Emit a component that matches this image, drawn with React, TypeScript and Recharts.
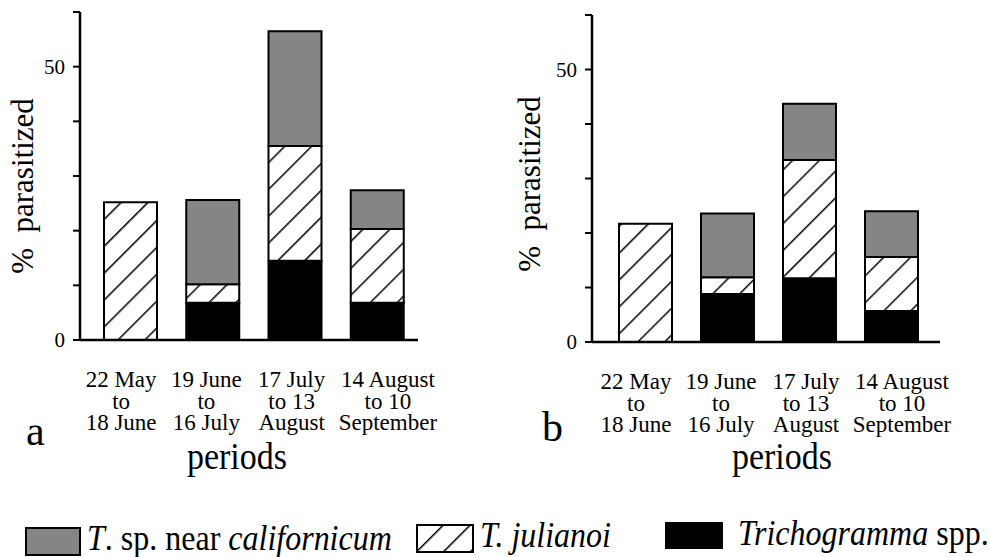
import React from "react";
import { BarChart, Bar, XAxis, YAxis } from "recharts";

//========== Data ===========

const periodLabels = [
  ["22 May", "to", "18 June"],
  ["19 June", "to", "16 July"],
  ["17 July", "to 13", "August"],
  ["14 August", "to 10", "September"],
];

// panel a
const trichogrammaA = [0, 6.8, 14.5, 6.8];
const julianoiA = [25.2, 3.4, 21.0, 13.5];
const californicumA = [0, 15.4, 21.0, 7.1];

// panel b
const trichogrammaB = [0, 8.8, 11.7, 5.7];
const julianoiB = [21.7, 3.1, 21.7, 9.9];
const californicumB = [0, 11.7, 10.3, 8.4];

const yTicks = [0, 10, 20, 30, 40, 50, 60];
const yTickLabels = [0, 50];

//========== Styles ===========

const SERIF = '"Liberation Serif", "Times New Roman", serif';
const GRAY = "#858585";
const LABEL_NUDGE = [-9, -6, -3, 11];

const buildRows = (t: number[], j: number[], c: number[]) =>
  periodLabels.map((p, i) => ({
    period: p.join("|"),
    trichogramma: t[i],
    julianoi: j[i],
    californicum: c[i],
  }));

const rowsA = buildRows(trichogrammaA, julianoiA, californicumA);
const rowsB = buildRows(trichogrammaB, julianoiB, californicumB);

// three-line period label under each bar
const CategoryTick = (props: any) => {
  const { x, y, payload, index } = props;
  const lines = String(payload.value).split("|");
  return (
    <text
      x={x + (LABEL_NUDGE[index] ?? 0)}
      y={y + 47}
      textAnchor="middle"
      fontSize={23}
      fontFamily={SERIF}
      fill="#000"
    >
      {lines.map((line, k) => (
        <tspan key={k} x={x + (LABEL_NUDGE[index] ?? 0)} dy={k === 0 ? 0 : 21.5}>
          {line}
        </tspan>
      ))}
    </text>
  );
};

const ValueTick = (props: any) => {
  const { x, y, payload } = props;
  if (!yTickLabels.includes(payload.value)) return <g />;
  return (
    <text
      x={x}
      y={y + 7}
      textAnchor="end"
      fontSize={21}
      fontFamily={SERIF}
      fill="#000"
    >
      {payload.value}
    </text>
  );
};

interface PanelProps {
  rows: typeof rowsA;
  left: number;
  width: number;
  margin: { top: number; right: number; bottom: number; left: number };
  padding: { left: number; right: number };
}

const Panel: React.FC<PanelProps> = ({ rows, left, width, margin, padding }) => (
  <div style={{ position: "absolute", left, top: 0 }}>
    <BarChart width={width} height={557} data={rows} margin={margin}>
      <XAxis
        dataKey="period"
        height={30}
        padding={padding}
        tickLine={false}
        tickSize={0}
        tickMargin={0}
        interval={0}
        tick={<CategoryTick />}
        axisLine={{ stroke: "#000", strokeWidth: 2.5 }}
      />
      <YAxis
        width={60}
        domain={[0, 60]}
        ticks={yTicks}
        tickSize={7}
        tickMargin={8}
        interval={0}
        tick={<ValueTick />}
        tickLine={{ stroke: "#000", strokeWidth: 2 }}
        axisLine={{ stroke: "#000", strokeWidth: 2.5 }}
      />
      <Bar
        dataKey="trichogramma"
        stackId="s"
        barSize={53}
        fill="#000"
        stroke="#000"
        strokeWidth={2}
        isAnimationActive={false}
      />
      <Bar
        dataKey="julianoi"
        stackId="s"
        barSize={53}
        fill="url(#hatch)"
        stroke="#000"
        strokeWidth={2}
        isAnimationActive={false}
      />
      <Bar
        dataKey="californicum"
        stackId="s"
        barSize={53}
        fill={GRAY}
        stroke="#000"
        strokeWidth={2}
        isAnimationActive={false}
      />
    </BarChart>
  </div>
);

const App: React.FC = () => {
  const txt = { fontFamily: SERIF, fill: "#000" };
  return (
    <div
      style={{
        position: "absolute",
        left: 0,
        top: 0,
        width: 991,
        height: 557,
        background: "#fff",
        overflow: "hidden",
      }}
    >
      {/* ====== Panel a ====== */}
      <Panel
        rows={rowsA}
        left={0}
        width={495}
        margin={{ top: 12, right: 77, bottom: 187, left: 20 }}
        padding={{ left: 9, right: 0 }}
      />
      {/* ====== Panel b ====== */}
      <Panel
        rows={rowsB}
        left={495}
        width={496}
        margin={{ top: 15, right: 51, bottom: 185, left: 37 }}
        padding={{ left: 12, right: 8 }}
      />

      {/* ====== Labels & legend ====== */}
      <svg
        width={991}
        height={557}
        style={{ position: "absolute", left: 0, top: 0, pointerEvents: "none" }}
      >
        <defs>
          <pattern
            id="hatch"
            width={19}
            height={19}
            patternUnits="userSpaceOnUse"
            patternTransform="rotate(45)"
          >
            <rect width={19} height={19} fill="#fff" />
            <line x1={0} y1={0} x2={0} y2={19} stroke="#000" strokeWidth={3} />
          </pattern>
        </defs>

        <text
          {...txt}
          fontSize={31}
          textAnchor="middle"
          transform="translate(33,186) rotate(-90)"
          xmlSpace="preserve"
        >
          {"%  parasitized"}
        </text>
        <text
          {...txt}
          fontSize={31}
          textAnchor="middle"
          transform="translate(540,184) rotate(-90)"
          xmlSpace="preserve"
        >
          {"%  parasitized"}
        </text>

        <text {...txt} fontSize={42} x={26} y={445}>
          a
        </text>
        <text {...txt} fontSize={42} x={542} y={441}>
          b
        </text>

        <text
          {...txt}
          fontSize={34}
          textAnchor="middle"
          transform="translate(237,469) scale(1,1.12)"
        >
          periods
        </text>
        <text
          {...txt}
          fontSize={34}
          textAnchor="middle"
          transform="translate(782,469) scale(1,1.12)"
        >
          periods
        </text>

        {/* legend */}
        <rect x={26} y={528} width={54} height={27} fill={GRAY} stroke="#000" strokeWidth={2} />
        <text {...txt} fontSize={32} transform="translate(87,550) scale(1,1.12)">
          <tspan fontStyle="italic">T</tspan>. sp. near{" "}
          <tspan fontStyle="italic">californicum</tspan>
        </text>

        <rect x={417} y={525} width={56} height={27} fill="url(#hatch)" stroke="#000" strokeWidth={2} />
        <text {...txt} fontSize={32} transform="translate(480,547) scale(1,1.12)">
          <tspan fontStyle="italic">T. julianoi</tspan>
        </text>

        <rect x={666} y={523} width={56} height={25} fill="#000" stroke="#000" strokeWidth={2} />
        <text {...txt} fontSize={32} transform="translate(738,545) scale(1,1.12)">
          <tspan fontStyle="italic">Trichogramma</tspan> spp.
        </text>
      </svg>
    </div>
  );
};

export default App;
